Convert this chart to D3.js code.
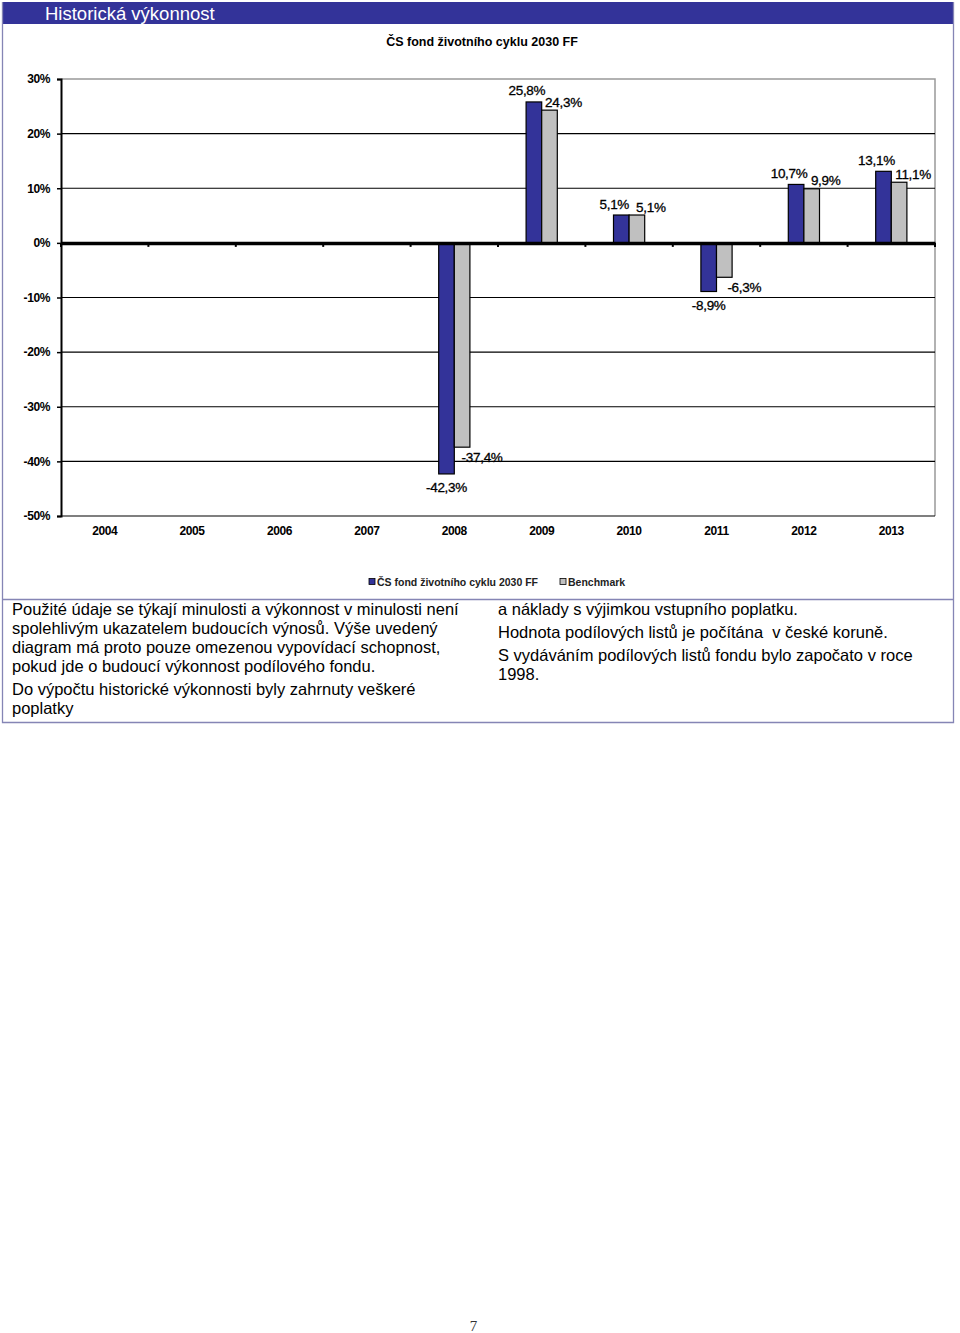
<!DOCTYPE html>
<html>
<head>
<meta charset="utf-8">
<script src="https://cdn.jsdelivr.net/npm/d3@7"></script>
<style>
  body { margin: 0; background: #fff; }
  svg { display: block; }
  text { white-space: pre; }
</style>
</head>
<body>
<div id="svg-container"></div>
<script>
// data
var years = ["2004", "2005", "2006", "2007", "2008", "2009", "2010", "2011", "2012", "2013"];
var fundValues = [null, null, null, null, -42.3, 25.8, 5.1, -8.9, 10.7, 13.1];
var benchValues = [null, null, null, null, -37.4, 24.3, 5.1, -6.3, 9.9, 11.1];
var seriesNames = ["ČS fond životního cyklu 2030 FF", "Benchmark"];
var yTicks = [30, 20, 10, 0, -10, -20, -30, -40, -50];
var leftText = [
  ["Použité údaje se týkají minulosti a výkonnost v minulosti není",
   "spolehlivým ukazatelem budoucích výnosů. Výše uvedený",
   "diagram má proto pouze omezenou vypovídací schopnost,",
   "pokud jde o budoucí výkonnost podílového fondu."],
  ["Do výpočtu historické výkonnosti byly zahrnuty veškeré",
   "poplatky"]
];
var rightText = [
  ["a náklady s výjimkou vstupního poplatku."],
  ["Hodnota podílových listů je počítána  v české koruně."],
  ["S vydáváním podílových listů fondu bylo započato v roce",
   "1998."]
];

var width = 960, height = 1333;
var colors = { fund: "#333399", bench: "#c0c0c0", frame: "#8585b5" };

var svg = d3.select("#svg-container")
            .append("svg")
            .attr("width", width)
            .attr("height", height);

// outer frame + header
svg.append("rect")
   .attr("x", 2).attr("y", 2).attr("width", 951).attr("height", 22)
   .attr("fill", colors.fund);
svg.append("text")
   .attr("x", 45).attr("y", 19.5)
   .attr("fill", "#fff")
   .style("font", "18.5px 'Liberation Sans', Arial, sans-serif")
   .text("Historická výkonnost");

var frame = svg.append("g")
               .attr("stroke", colors.frame)
               .attr("stroke-width", 1.3)
               .attr("fill", "none");
frame.append("path").attr("d", "M2.5,2V722.5H953.5V2");
frame.append("path").attr("d", "M2.5,599.5H953.5");

// chart title
svg.append("text")
   .attr("x", 482).attr("y", 46)
   .attr("text-anchor", "middle")
   .style("font", "bold 12.5px 'Liberation Sans', Arial, sans-serif")
   .text("ČS fond životního cyklu 2030 FF");

var plot = { left: 61, right: 935, top: 79, bottom: 516 };

var scaleX = d3.scaleBand()
               .domain(years)
               .range([plot.left, plot.right]);

var scaleY = d3.scaleLinear()
               .domain([-50, 30])
               .range([plot.bottom, plot.top]);

var g = svg.append("g");

// plot border (right + top in gray)
g.append("path")
 .attr("d", "M" + plot.left + "," + plot.top + "H" + plot.right + "V" + plot.bottom)
 .attr("fill", "none")
 .attr("stroke", "#999")
 .attr("stroke-width", 1.5);

// gridlines
g.selectAll(".grid")
 .data(yTicks.filter(function(d) { return d !== 0 && d !== -50 && d !== 30; }))
 .enter()
 .append("line")
 .attr("class", "grid")
 .attr("x1", plot.left).attr("x2", plot.right)
 .attr("y1", function(d) { return scaleY(d); })
 .attr("y2", function(d) { return scaleY(d); })
 .attr("stroke", "#000")
 .attr("stroke-width", 1.2);

// bottom line
g.append("line")
 .attr("x1", plot.left).attr("x2", plot.right)
 .attr("y1", scaleY(-50)).attr("y2", scaleY(-50))
 .attr("stroke", "#000").attr("stroke-width", 1.2);

// y axis
g.append("g")
 .attr("transform", "translate(" + plot.left + ",0)")
 .call(d3.axisLeft(scaleY)
         .tickValues(yTicks)
         .tickSize(4)
         .tickPadding(7)
         .tickFormat(function(d) { return d + "%"; }))
 .call(function(a) {
   a.select(".domain").attr("stroke", "#000").attr("stroke-width", 2);
   a.selectAll(".tick line").attr("stroke", "#000").attr("stroke-width", 1.5);
   a.selectAll("text")
    .attr("fill", "#000")
    .style("font", "bold 12px 'Liberation Sans', Arial, sans-serif")
    .style("letter-spacing", "-0.4px");
 });

// bars
var barW = 15.6;
var barData = [];
years.forEach(function(y, i) {
  if (fundValues[i] !== null) barData.push({ year: y, v: fundValues[i], s: 0 });
  if (benchValues[i] !== null) barData.push({ year: y, v: benchValues[i], s: 1 });
});

function barX(d) {
  var c = scaleX(d.year) + scaleX.bandwidth() / 2;
  return d.s === 0 ? c - barW : c;
}

g.selectAll(".bar")
 .data(barData)
 .enter()
 .append("rect")
 .attr("class", "bar")
 .attr("x", barX)
 .attr("width", barW)
 .attr("y", function(d) { return scaleY(Math.max(0, d.v)); })
 .attr("height", function(d) { return Math.abs(scaleY(d.v) - scaleY(0)); })
 .attr("fill", function(d) { return d.s === 0 ? colors.fund : colors.bench; })
 .attr("stroke", "#000")
 .attr("stroke-width", 1.2);

// zero axis
g.append("g")
 .attr("transform", "translate(0," + scaleY(0) + ")")
 .call(d3.axisBottom(scaleX).tickSize(0).tickFormat(""))
 .call(function(a) {
   a.select(".domain").attr("stroke", "#000").attr("stroke-width", 3.5);
 });
g.selectAll(".ztick")
 .data(years.concat(["end"]))
 .enter()
 .append("line")
 .attr("class", "ztick")
 .attr("x1", function(d, i) { return plot.left + i * scaleX.step(); })
 .attr("x2", function(d, i) { return plot.left + i * scaleX.step(); })
 .attr("y1", scaleY(0)).attr("y2", scaleY(0) + 4)
 .attr("stroke", "#000").attr("stroke-width", 2);

// x labels
g.selectAll(".xlab")
 .data(years)
 .enter()
 .append("text")
 .attr("class", "xlab")
 .attr("x", function(d) { return scaleX(d) + scaleX.bandwidth() / 2; })
 .attr("y", plot.bottom + 19)
 .attr("text-anchor", "middle")
 .style("font", "bold 12px 'Liberation Sans', Arial, sans-serif")
 .style("letter-spacing", "-0.4px")
 .text(function(d) { return d; });

// value labels
function fmt(v) { return v.toFixed(1).replace(".", ",") + "%"; }
g.selectAll(".vlab")
 .data(barData)
 .enter()
 .append("text")
 .attr("class", "vlab")
 .attr("x", function(d) {
   var c = barX(d) + barW / 2;
   if (d.s === 0) return d.v > 0 ? c - 7 : c;
   return d.v > 0 ? c + 14 : c + 20;
 })
 .attr("y", function(d) {
   var e = scaleY(d.v);
   if (d.v > 0) return e - (d.s === 0 ? 11 : 8) + 4.5;
   return e + (d.s === 0 ? 14 : 10) + 4.5;
 })
 .attr("text-anchor", "middle")
 .style("font", "13.5px 'Liberation Sans', Arial, sans-serif")
 .style("letter-spacing", "-0.3px")
 .attr("stroke", "#000").attr("stroke-width", 0.3)
 .text(function(d) { return fmt(d.v); });

// legend
var legend = svg.append("g")
                .attr("transform", "translate(369,582)");
var legX = [0, 191];
seriesNames.forEach(function(n, i) {
  legend.append("rect")
        .attr("x", legX[i]).attr("y", -3.5)
        .attr("width", 6).attr("height", 6)
        .attr("fill", i === 0 ? colors.fund : colors.bench)
        .attr("stroke", "#000").attr("stroke-width", 0.8);
  legend.append("text")
        .attr("x", legX[i] + 8).attr("y", 3.5)
        .style("font", "bold 10.5px 'Liberation Sans', Arial, sans-serif")
        .attr("fill", "#222")
        .text(n);
});

// footnote text columns
function writeColumn(paras, x, y0) {
  var y = y0;
  paras.forEach(function(p) {
    p.forEach(function(line) {
      svg.append("text")
         .attr("x", x).attr("y", y)
         .style("font", "16.5px 'Liberation Sans', Arial, sans-serif")
         .attr("fill", "#000")
         .text(line);
      y += 19;
    });
    y += 4;
  });
}
writeColumn(leftText, 12, 614.5);
writeColumn(rightText, 498, 614.5);

// page number
svg.append("text")
   .attr("x", 473.5).attr("y", 1331)
   .attr("text-anchor", "middle")
   .style("font", "15px 'Liberation Serif', serif")
   .attr("fill", "#333")
   .text("7");
</script>
</body>
</html>
